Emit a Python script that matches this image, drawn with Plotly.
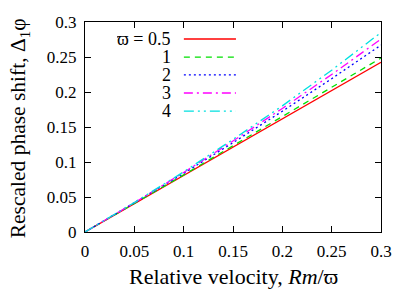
import plotly.graph_objects as go

x_vals = [0, 0.05, 0.1, 0.15, 0.2, 0.25, 0.3]
omega_labels = ["ϖ = 0.5", "1", "2", "3", "4"]
y_05 = [0, 0.0404, 0.0808, 0.1212, 0.1616, 0.2020, 0.2424]
y_1 = [0, 0.0406, 0.0816, 0.1232, 0.1652, 0.2068, 0.2485]
y_2 = [0, 0.0414, 0.0838, 0.1276, 0.1725, 0.2190, 0.2670]
y_3 = [0, 0.0418, 0.0850, 0.1300, 0.1765, 0.2250, 0.2755]
y_4 = [0, 0.0421, 0.0860, 0.1322, 0.1802, 0.2312, 0.2850]
tick_vals = [0, 0.05, 0.1, 0.15, 0.2, 0.25, 0.3]
tick_text = ["0", "0.05", "0.1", "0.15", "0.2", "0.25", "0.3"]
x_title = "Relative velocity, <i>Rm</i>/ϖ"
y_title = "Rescaled phase shift, Δ<sub>1</sub>φ"

series = [y_05, y_1, y_2, y_3, y_4]
colors = ["#ff0000", "#00e000", "#0000ff", "#ff00ff", "#00e0e0"]
dashes = ["solid", "6px,5px", "2px,3px", "9px,4px,2px,4px", "10px,4px,2px,4px,2px,4px"]

fig = go.Figure()
for ys, c, d, name in zip(series, colors, dashes, omega_labels):
    fig.add_trace(go.Scatter(x=x_vals, y=ys, mode="lines", name=name,
                             line=dict(color=c, width=1.3, dash=d), showlegend=False))

# manual legend (gnuplot style: label then sample)
row_y = [0.919, 0.833, 0.748, 0.662, 0.576]
for lab, c, d, ry in zip(omega_labels, colors, dashes, row_y):
    fig.add_annotation(x=0.296, y=ry, xref="paper", yref="paper", text=lab,
                       showarrow=False, xanchor="right", yanchor="middle", height=16,
                       font=dict(family="Liberation Serif", size=18, color="black"))
    fig.add_shape(type="line", xref="paper", yref="paper", x0=0.334, x1=0.51, y0=ry, y1=ry,
                  line=dict(color=c, width=1.3, dash=d))

title_font = dict(family="Liberation Serif", size=22, color="black")
fig.add_annotation(x=0.5, y=-0.212, xref="paper", yref="paper", text=x_title, showarrow=False,
                   xanchor="center", yanchor="middle", font=title_font)
fig.add_annotation(x=-0.222, y=0.495, xref="paper", yref="paper", text=y_title, showarrow=False,
                   xanchor="center", yanchor="middle", textangle=-90,
                   font=dict(family="Liberation Serif", size=21.5, color="black"))

font = dict(family="Liberation Serif", size=17, color="black")
axis_common = dict(range=[0, 0.3], tickvals=tick_vals, ticktext=tick_text, ticks="inside",
                   ticklen=6, tickcolor="black", showline=True, linecolor="black", linewidth=1,
                   mirror="allticks", showgrid=False, zeroline=False, tickfont=font,
                   automargin=False, ticklabelstandoff=4)

# page body adds an 8px offset, so the figure is 8px smaller and margins shifted
fig.update_layout(
    width=407, height=283,
    margin=dict(l=77, r=34, t=14, b=59),
    plot_bgcolor="white", paper_bgcolor="white",
    font=font,
    xaxis=dict(**axis_common),
    yaxis=dict(**axis_common),
)

fig.write_html("out.html")
